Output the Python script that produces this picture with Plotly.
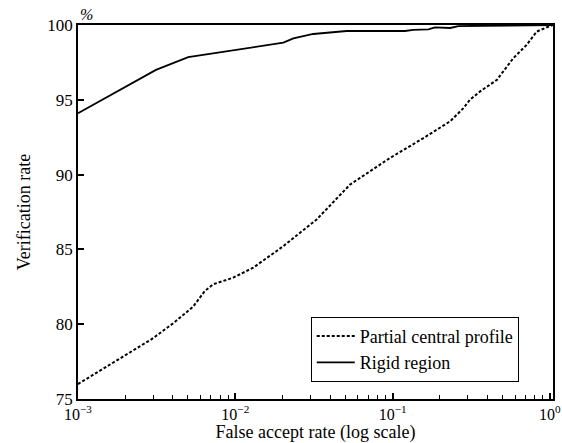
import plotly.graph_objects as go

# Rigid region (solid)
rigid_far = [0.001, 0.00313, 0.00502, 0.0202, 0.0234, 0.0313, 0.051, 0.12, 0.135, 0.169, 0.186, 0.232, 0.262, 0.5, 1.0, 1.046]
rigid_vr = [94.1, 97.0, 97.85, 98.82, 99.1, 99.4, 99.6, 99.6, 99.67, 99.71, 99.84, 99.8, 99.93, 99.97, 100.0, 100.0]

# Partial central profile (dotted)
partial_far = [0.001, 0.00194, 0.00294, 0.00404, 0.0054, 0.0064, 0.00724, 0.0097, 0.013, 0.0183, 0.0202,
               0.0329, 0.0536, 0.0962, 0.157, 0.232, 0.282, 0.31, 0.36, 0.46, 0.585, 0.711, 0.824, 0.953, 1.046]
partial_vr = [76.0, 77.85, 79.0, 80.07, 81.18, 82.22, 82.67, 83.11, 83.78, 84.89, 85.22,
              87.0, 89.33, 91.11, 92.44, 93.56, 94.44, 95.0, 95.56, 96.33, 97.78, 98.67, 99.56, 99.84, 100.0]

x_tickvals = [0.001, 0.01, 0.1, 1]
x_ticktext = ["10<sup>−3</sup>", "10<sup>−2</sup>", "10<sup>−1</sup>", "10<sup>0</sup>"]
y_tickvals = [75, 80, 85, 90, 95, 100]

minor_vals = [m * 10 ** e for e in (-3, -2, -1) for m in range(2, 10)]

FONT = "Liberation Serif"

fig = go.Figure()
fig.add_trace(go.Scatter(x=partial_far, y=partial_vr, mode="lines", name="Partial central profile",
                         line=dict(color="black", width=2, dash="3px,2px")))
fig.add_trace(go.Scatter(x=rigid_far, y=rigid_vr, mode="lines", name="Rigid region",
                         line=dict(color="black", width=1.8)))

fig.update_layout(
    width=562, height=443,
    margin=dict(l=78, r=9, t=25, b=44, autoexpand=False),
    paper_bgcolor="white", plot_bgcolor="white",
    font=dict(family=FONT, size=17, color="black"),
    showlegend=True,
    legend=dict(x=0.49, y=0.22, xanchor="left", yanchor="top",
                bordercolor="black", borderwidth=1, bgcolor="white",
                font=dict(family=FONT, size=18), tracegroupgap=0, itemwidth=38),
    xaxis=dict(type="log", range=[-3, 0.0196], tickvals=x_tickvals, ticktext=x_ticktext,
               ticks="inside", ticklen=6, tickwidth=1.5, tickcolor="black",
               showline=True, linecolor="black", linewidth=1.5, mirror=True,
               showgrid=False, zeroline=False, automargin=False,
               minor=dict(tickvals=minor_vals, ticks="inside", ticklen=4, tickwidth=1.2, tickcolor="black", showgrid=False),
               title=dict(text="False accept rate (log scale)", standoff=0, font=dict(size=18)),
               tickfont=dict(size=16)),
    yaxis=dict(range=[75, 100], tickvals=y_tickvals,
               ticks="inside", ticklen=6, tickwidth=1.5, tickcolor="black",
               showline=True, linecolor="black", linewidth=1.5, mirror=True,
               showgrid=False, zeroline=False, automargin=False,
               title=dict(text="Verification rate", standoff=12, font=dict(size=18)),
               tickfont=dict(size=17)),
    annotations=[dict(text="<i>%</i>", xref="paper", yref="paper", x=0.0, y=1.0,
                      xanchor="left", yanchor="bottom", showarrow=False, xshift=0, yshift=0,
                      font=dict(family=FONT, size=16))],
)

fig.write_html("out.html", post_script="document.body.style.margin='0';",
               config={"displayModeBar": False})
